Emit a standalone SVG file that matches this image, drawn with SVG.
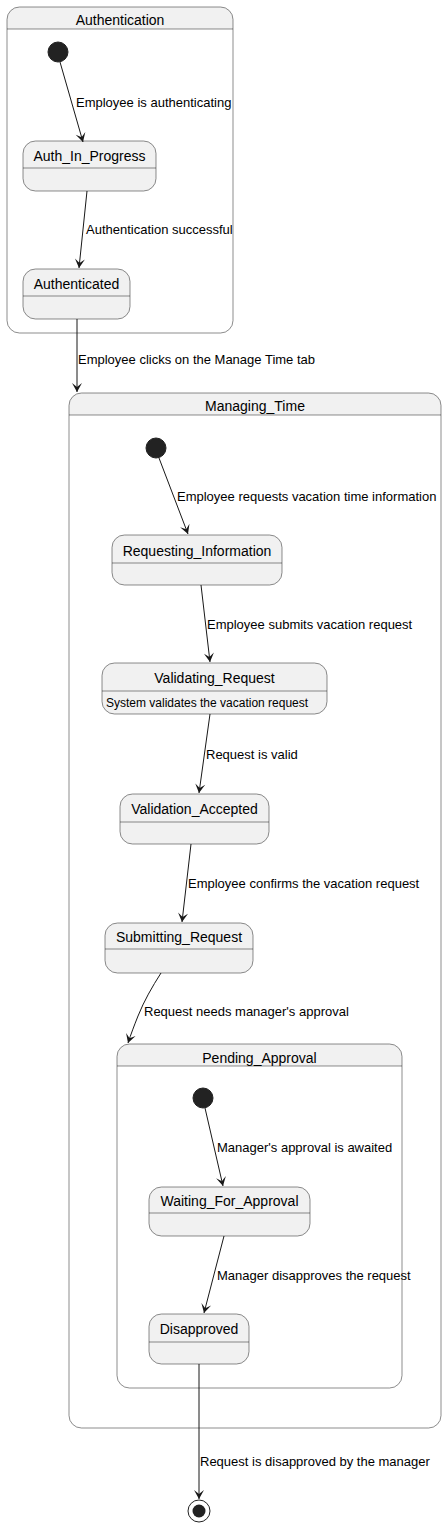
<svg xmlns="http://www.w3.org/2000/svg" width="447" height="1527" viewBox="0 0 447 1527">
<style>
.box{fill:#F1F1F1;stroke:#181818;stroke-width:0.5}
.cont{fill:none;stroke:#181818;stroke-width:0.5}
.sep{stroke:#181818;stroke-width:0.5}
.t{font-family:"Liberation Sans",Arial,sans-serif;font-size:14px;fill:#000;text-anchor:middle}
.l{font-family:"Liberation Sans",Arial,sans-serif;font-size:13px;fill:#000}
.d{font-family:"Liberation Sans",Arial,sans-serif;font-size:12px;fill:#000}
.e{fill:none;stroke:#181818;stroke-width:1}
.init{fill:#222222;stroke:#222222}
</style>
<defs>
<marker id="arr" markerUnits="userSpaceOnUse" viewBox="-11 -6 12 12" markerWidth="12" markerHeight="12" refX="0" refY="0" orient="auto">
<path d="M0,0 L-9,-5 L-5,0 L-9,5 Z" fill="#181818"/>
</marker>
</defs>
<g id="Authentication">
<path d="M19.5,7 L220.5,7 A12.5,12.5 0 0 1 233,19.5 L233,29 L7,29 L7,19.5 A12.5,12.5 0 0 1 19.5,7 Z" fill="#F1F1F1" stroke="none"/>
<rect x="7" y="7" width="226" height="326" rx="12.5" ry="12.5" class="cont"/>
<line x1="7" y1="29" x2="233" y2="29" class="sep"/>
<text x="120" y="25" class="t">Authentication</text>
</g>
<g id="auth_start"><circle cx="58" cy="52" r="10" class="init"/></g>
<g id="Auth_In_Progress">
<rect x="23" y="141" width="133" height="50" rx="12.5" ry="12.5" class="box"/>
<line x1="23" y1="168" x2="156" y2="168" class="sep"/>
<text x="89.5" y="161" class="t">Auth_In_Progress</text>
</g>
<g id="Authenticated">
<rect x="23" y="269" width="107" height="50" rx="12.5" ry="12.5" class="box"/>
<line x1="23" y1="296" x2="130" y2="296" class="sep"/>
<text x="76.5" y="289" class="t">Authenticated</text>
</g>
<g id="Managing_Time">
<path d="M81.5,393 L428.5,393 A12.5,12.5 0 0 1 441,405.5 L441,415 L69,415 L69,405.5 A12.5,12.5 0 0 1 81.5,393 Z" fill="#F1F1F1" stroke="none"/>
<rect x="69" y="393" width="372" height="1035" rx="12.5" ry="12.5" class="cont"/>
<line x1="69" y1="415" x2="441" y2="415" class="sep"/>
<text x="255" y="411" class="t">Managing_Time</text>
</g>
<g id="mt_start"><circle cx="156" cy="448" r="10" class="init"/></g>
<g id="Requesting_Information">
<rect x="112" y="535" width="170" height="50" rx="12.5" ry="12.5" class="box"/>
<line x1="112" y1="563" x2="282" y2="563" class="sep"/>
<text x="197" y="556" class="t">Requesting_Information</text>
</g>
<g id="Validating_Request">
<rect x="102" y="663" width="225" height="51" rx="12.5" ry="12.5" class="box"/>
<line x1="102" y1="691" x2="327" y2="691" class="sep"/>
<text x="214.5" y="683" class="t">Validating_Request</text>
<text x="106" y="707" class="d">System validates the vacation request</text>
</g>
<g id="Validation_Accepted">
<rect x="120" y="794" width="149" height="50" rx="12.5" ry="12.5" class="box"/>
<line x1="120" y1="822" x2="269" y2="822" class="sep"/>
<text x="194.5" y="814" class="t">Validation_Accepted</text>
</g>
<g id="Submitting_Request">
<rect x="105" y="923" width="148" height="50" rx="12.5" ry="12.5" class="box"/>
<line x1="105" y1="949" x2="253" y2="949" class="sep"/>
<text x="179" y="942" class="t">Submitting_Request</text>
</g>
<g id="Pending_Approval">
<path d="M129.5,1044 L389.5,1044 A12.5,12.5 0 0 1 402,1056.5 L402,1066 L117,1066 L117,1056.5 A12.5,12.5 0 0 1 129.5,1044 Z" fill="#F1F1F1" stroke="none"/>
<rect x="117" y="1044" width="285" height="344" rx="12.5" ry="12.5" class="cont"/>
<line x1="117" y1="1066" x2="402" y2="1066" class="sep"/>
<text x="259.5" y="1063" class="t">Pending_Approval</text>
</g>
<g id="pa_start"><circle cx="203" cy="1098" r="10" class="init"/></g>
<g id="Waiting_For_Approval">
<rect x="149" y="1187" width="161" height="49" rx="12.5" ry="12.5" class="box"/>
<line x1="149" y1="1213" x2="310" y2="1213" class="sep"/>
<text x="229.5" y="1206" class="t">Waiting_For_Approval</text>
</g>
<g id="Disapproved">
<rect x="149" y="1314" width="100" height="50" rx="12.5" ry="12.5" class="box"/>
<line x1="149" y1="1342" x2="249" y2="1342" class="sep"/>
<text x="199" y="1334" class="t">Disapproved</text>
</g>
<g id="end">
<circle cx="199" cy="1511" r="11" fill="none" stroke="#222222" stroke-width="1"/>
<circle cx="199" cy="1511" r="6.5" fill="#222222"/>
</g>
<g id="connectors">
<path d="M60,62 L83,142" class="e" marker-end="url(#arr)"/>
<text x="76" y="107" class="l">Employee is authenticating</text>
<path d="M87,191 L79,268" class="e" marker-end="url(#arr)"/>
<text x="86" y="234" class="l">Authentication successful</text>
<path d="M77,319 L77,392" class="e" marker-end="url(#arr)"/>
<text x="78" y="364" class="l">Employee clicks on the Manage Time tab</text>
<path d="M159,458 L188,534" class="e" marker-end="url(#arr)"/>
<text x="177" y="501" class="l">Employee requests vacation time information</text>
<path d="M201,585 L210,662" class="e" marker-end="url(#arr)"/>
<text x="207" y="629" class="l">Employee submits vacation request</text>
<path d="M210,714 L199,793" class="e" marker-end="url(#arr)"/>
<text x="206" y="759" class="l">Request is valid</text>
<path d="M191,844 L182,922" class="e" marker-end="url(#arr)"/>
<text x="188" y="888" class="l">Employee confirms the vacation request</text>
<path d="M161,973 C152,987 144,1001 138,1016 C134,1026 131,1034 128,1043" class="e" marker-end="url(#arr)"/>
<text x="144" y="1016" class="l">Request needs manager's approval</text>
<path d="M205,1108 L223,1186" class="e" marker-end="url(#arr)"/>
<text x="217" y="1152" class="l">Manager's approval is awaited</text>
<path d="M224,1236 L204,1313" class="e" marker-end="url(#arr)"/>
<text x="217" y="1280" class="l">Manager disapproves the request</text>
<path d="M199,1364 L199,1499" class="e" marker-end="url(#arr)"/>
<text x="200" y="1466" class="l">Request is disapproved by the manager</text>
</g>
</svg>
